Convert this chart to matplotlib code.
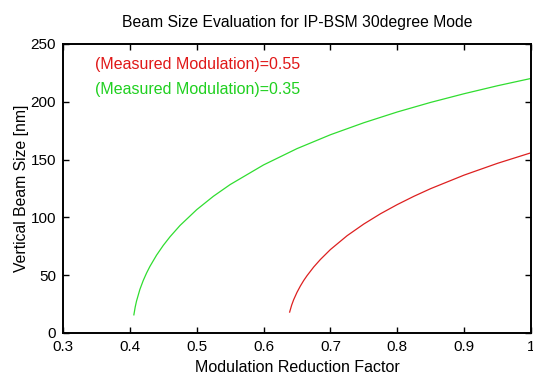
import matplotlib
matplotlib.use("Agg")
import matplotlib.pyplot as plt

plt.rcParams['font.family'] = ['Liberation Sans', 'DejaVu Sans']

# Modulation reduction factor (x) and vertical beam size [nm] (y)
green_x = [0.406, 0.408, 0.41, 0.415, 0.42, 0.425, 0.43, 0.44, 0.45, 0.46, 0.475,
           0.5, 0.525, 0.55, 0.6, 0.65, 0.7, 0.75, 0.8, 0.85, 0.9, 0.95, 1.0]
green_y = [15.7, 22.5, 27.7, 37.7, 45.4, 51.9, 57.6, 67.4, 75.8, 83.2, 93.0,
           106.7, 118.3, 128.4, 145.4, 159.5, 171.5, 181.9, 191.2, 199.5, 207.0, 213.9, 220.2]

red_x = [0.639, 0.642, 0.645, 0.65, 0.655, 0.66, 0.665, 0.675, 0.685, 0.7, 0.725,
         0.75, 0.775, 0.8, 0.825, 0.85, 0.9, 0.95, 1.0]
red_y = [18.1, 24.1, 28.8, 35.2, 40.6, 45.4, 49.6, 57.1, 63.6, 72.2, 84.2,
         94.3, 103.2, 111.1, 118.3, 124.9, 136.6, 146.8, 155.9]

x_ticks = [0.3, 0.4, 0.5, 0.6, 0.7, 0.8, 0.9, 1.0]
x_tick_labels = ['0.3', '0.4', '0.5', '0.6', '0.7', '0.8', '0.9', '1']
y_ticks = [0, 50, 100, 150, 200, 250]

red_label = '(Measured Modulation)=0.55'
green_label = '(Measured Modulation)=0.35'

fig = plt.figure(figsize=(5.33, 3.8), dpi=100)
ax = fig.add_axes([63/533, 47/380, 468/533, 289/380])

ax.plot(red_x, red_y, color='#dd2020', lw=0.9)
ax.plot(green_x, green_y, color='#30dd30', lw=0.9)

ax.set_xlim(0.3, 1.0)
ax.set_ylim(0, 250)
ax.set_xticks(x_ticks)
ax.set_xticklabels(x_tick_labels)
ax.set_yticks(y_ticks)
ax.tick_params(direction='in', top=True, right=True, length=4, width=1,
               labelsize=11, pad=5)
for s in ax.spines.values():
    s.set_linewidth(1.4)

ax.text(0.348, 232, red_label, color='#e01818', fontsize=11.5, va='center')
ax.text(0.348, 211, green_label, color='#20d020', fontsize=11.5, va='center')

ax.set_title('Beam Size Evaluation for IP-BSM 30degree Mode', fontsize=11.3, pad=12)
ax.set_xlabel('Modulation Reduction Factor', fontsize=11.5, labelpad=4)
ax.set_ylabel('Vertical Beam Size [nm]', fontsize=11.3, labelpad=1)

fig.savefig('out.png', dpi=100)
